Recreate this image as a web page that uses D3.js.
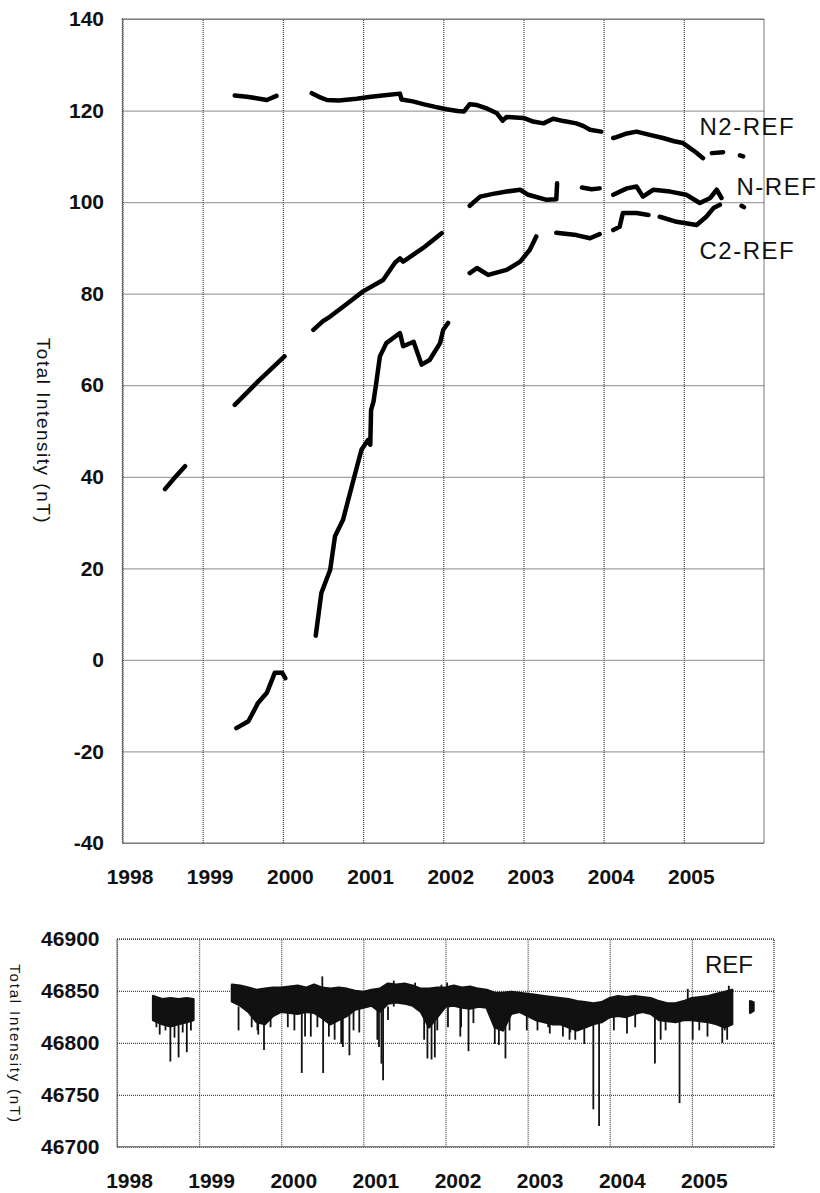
<!DOCTYPE html>
<html>
<head>
<meta charset="utf-8">
<script src="https://cdn.jsdelivr.net/npm/d3@7"></script>
<style>
  body { margin: 0; background: #fff; }
  svg { display: block; font-family: "Liberation Sans", Arial, sans-serif; }
  .grid line { stroke: #444; stroke-width: 1.2; stroke-dasharray: 1,1; }
  .tick text { fill: #111; font-weight: bold; font-size: 21px; }
</style>
</head>
<body>
<script>
// ---- data: top panel (nT differences), null = gap in record ----
var n2Years = [1999.40, 1999.55, 1999.67, 1999.80, 1999.92, null,
  2000.36, 2000.45, 2000.55, 2000.70, 2000.92, 2001.10, 2001.30, 2001.46, 2001.48, 2001.62, 2001.75, 2001.90,
  2002.04, 2002.18, 2002.26, 2002.33, 2002.42, 2002.55, 2002.67, 2002.74, 2002.79, 2002.90, 2003.00, 2003.12,
  2003.25, 2003.37, 2003.50, 2003.66, 2003.75, 2003.83, 2003.97, null,
  2004.12, 2004.16, 2004.29, 2004.41, 2004.55, 2004.74, 2004.88, 2004.99, 2005.15, 2005.24, null,
  2005.35, 2005.49, null, 2005.70, 2005.74];
var n2Values = [123.3, 123.0, 122.7, 122.3, 123.2, null,
  123.8, 123.0, 122.3, 122.2, 122.6, 123.0, 123.4, 123.7, 122.4, 122.0, 121.4, 120.8,
  120.3, 119.9, 119.8, 121.4, 121.2, 120.4, 119.4, 117.8, 118.6, 118.5, 118.4, 117.6,
  117.2, 118.2, 117.7, 117.2, 116.6, 115.8, 115.4, null,
  114.0, 114.2, 115.0, 115.4, 114.8, 114.0, 113.3, 112.9, 110.9, 109.6, null,
  110.7, 110.9, null, 110.2, 110.0];

var nYears = [1998.53, 1998.65, 1998.78, null,
  1999.40, 1999.70, 2000.02, null,
  2000.38, 2000.50, 2000.59, 2000.80, 2001.00, 2001.25, 2001.40, 2001.46, 2001.50, 2001.75, 2001.98, null,
  2002.33, 2002.46, 2002.62, 2002.79, 2002.96, 2003.06, 2003.29, 2003.41, 2003.42, null,
  2003.73, 2003.85, 2003.95, null,
  2004.12, 2004.29, 2004.41, 2004.49, 2004.62, 2004.83, 2005.03, 2005.20, 2005.33, 2005.41, 2005.47, null,
  2005.72, 2005.75];
var nValues = [37.3, 39.8, 42.3, null,
  55.7, 61.0, 66.3, null,
  72.1, 74.0, 75.0, 77.8, 80.5, 83.0, 86.8, 87.7, 87.0, 90.0, 93.2, null,
  99.2, 101.2, 101.8, 102.3, 102.7, 101.6, 100.5, 100.6, 104.1, null,
  103.2, 102.8, 103.0, null,
  101.6, 103.0, 103.4, 101.2, 102.7, 102.3, 101.6, 99.8, 100.9, 102.7, 100.9, null,
  99.2, 98.9];

var c2Years = [1999.42, 1999.57, 1999.69, 1999.80, 1999.90, 1999.99, 2000.03, null,
  2000.41, 2000.48, 2000.59, 2000.65, 2000.75, 2000.88, 2000.98, 2001.06, 2001.09, 2001.10, 2001.13,
  2001.17, 2001.21, 2001.29, 2001.46, 2001.50, 2001.63, 2001.73, 2001.83, 2001.96, 2002.00, 2002.06, null,
  2002.33, 2002.42, 2002.56, 2002.79, 2002.96, 2003.08, 2003.16, null,
  2003.41, 2003.66, 2003.83, 2003.95, null,
  2004.12, 2004.20, 2004.24, 2004.41, 2004.56, null,
  2004.70, 2004.91, 2005.16, 2005.28, 2005.37, 2005.45];
var c2Values = [-14.9, -13.4, -9.4, -7.2, -2.8, -2.8, -4.0, null,
  5.3, 14.6, 19.7, 27.0, 30.6, 39.3, 45.9, 48.0, 47.0, 54.6, 56.4,
  61.2, 66.3, 69.2, 71.4, 68.5, 69.5, 64.5, 65.5, 69.2, 72.1, 73.6, null,
  84.5, 85.6, 84.1, 85.2, 87.0, 89.6, 92.5, null,
  93.3, 92.8, 92.1, 93.0, null,
  93.9, 94.6, 97.6, 97.6, 97.2, null,
  96.8, 95.7, 95.0, 96.8, 98.7, 99.4];

var seriesNames = ["N2-REF", "N-REF", "C2-REF"];

// ---- data: bottom panel (REF total intensity), band of daily values ----
var refYears = [1998.44, 1998.55, 1998.65, 1998.75, 1998.85, 1998.93, null,
  1999.40, 1999.50, 1999.60, 1999.70, 1999.80, 1999.90, 2000.00, 2000.10, 2000.20, 2000.30, 2000.40,
  2000.50, 2000.60, 2000.70, 2000.80, 2000.90, 2001.00, 2001.10, 2001.20, 2001.30, 2001.40, 2001.50,
  2001.60, 2001.70, 2001.80, 2001.90, 2002.00, 2002.10, 2002.20, 2002.30, 2002.40, 2002.50, 2002.60,
  2002.70, 2002.80, 2002.90, 2003.00, 2003.10, 2003.20, 2003.30, 2003.40, 2003.50, 2003.60, 2003.70,
  2003.80, 2003.90, 2004.00, 2004.10, 2004.20, 2004.30, 2004.40, 2004.50, 2004.60, 2004.70, 2004.80,
  2004.90, 2005.00, 2005.10, 2005.20, 2005.30, 2005.40, 2005.49, null,
  2005.71, 2005.75];
var refHigh = [46845, 46842, 46843, 46842, 46843, 46842, null,
  46856, 46855, 46853, 46851, 46852, 46853, 46853, 46854, 46855, 46853, 46856,
  46853, 46852, 46853, 46852, 46850, 46849, 46851, 46852, 46857, 46856, 46857,
  46855, 46852, 46852, 46853, 46853, 46855, 46853, 46854, 46852, 46851, 46848,
  46848, 46849, 46848, 46847, 46846, 46845, 46844, 46843, 46842, 46840, 46839,
  46838, 46839, 46843, 46845, 46844, 46845, 46844, 46843, 46840, 46838, 46838,
  46840, 46843, 46844, 46845, 46847, 46849, 46851, null,
  46840, 46839];
var refLow = [46822, 46818, 46816, 46818, 46820, 46822, null,
  46840, 46836, 46830, 46820, 46818, 46826, 46830, 46829, 46828, 46830, 46829,
  46824, 46818, 46822, 46826, 46832, 46834, 46836, 46830, 46838, 46839, 46838,
  46836, 46830, 46815, 46825, 46835, 46836, 46834, 46833, 46835, 46834, 46815,
  46812, 46828, 46830, 46826, 46822, 46820, 46818, 46818, 46815, 46812, 46815,
  46818, 46820, 46825, 46826, 46825, 46828, 46830, 46828, 46822, 46821, 46820,
  46822, 46822, 46821, 46820, 46818, 46815, 46818, null,
  46829, 46831];

// single-day excursions (down and up)
var spikeYears = [1998.48, 1998.52, 1998.59, 1998.65, 1998.70, 1998.75, 1998.80, 1998.85, 1998.90,
  1999.48, 1999.64, 1999.71, 1999.72, 1999.79, 1999.87, 2000.08, 2000.16, 2000.25, 2000.29, 2000.36,
  2000.44, 2000.51, 2000.58, 2000.65, 2000.73, 2000.75, 2000.83, 2000.88, 2000.95,
  2001.17, 2001.19, 2001.22, 2001.24, 2001.30, 2001.74, 2001.78, 2001.83, 2001.87, 2001.90,
  2002.03, 2002.18, 2002.19, 2002.28, 2002.34, 2002.60, 2002.65, 2002.73, 2002.78, 2002.99,
  2003.12, 2003.25, 2003.27, 2003.43, 2003.51, 2003.52, 2003.58, 2003.69, 2003.80, 2003.87,
  2004.05, 2004.21, 2004.31, 2004.55, 2004.62, 2004.68, 2004.85,
  2005.01, 2005.09, 2005.19, 2005.37, 2005.40, 2005.43,
  2000.50, 2001.37, 2001.63, 2001.95, 2002.02, 2004.95, 2005.45];
var spikeValues = [46815, 46808, 46812, 46782, 46805, 46786, 46810, 46791, 46812,
  46812, 46815, 46812, 46808, 46793, 46815, 46815, 46812, 46771, 46806, 46806,
  46815, 46771, 46806, 46803, 46799, 46796, 46788, 46812, 46810,
  46803, 46796, 46780, 46764, 46822, 46803, 46785, 46784, 46786, 46812,
  46815, 46806, 46815, 46792, 46819, 46799, 46798, 46785, 46812, 46812,
  46812, 46815, 46809, 46806, 46803, 46810, 46803, 46799, 46736, 46720,
  46812, 46809, 46815, 46780, 46803, 46812, 46742,
  46803, 46812, 46806, 46800, 46812, 46803,
  46864, 46860, 46858, 46856, 46858, 46852, 46855];

var yearTicks = [1998, 1999, 2000, 2001, 2002, 2003, 2004, 2005];
var topTicks = [-40, -20, 0, 20, 40, 60, 80, 100, 120, 140];
var bottomTicks = [46700, 46750, 46800, 46850, 46900];

// ---- layout ----
var W = 820, H = 1193;
var svg = d3.select("body").append("svg").attr("width", W).attr("height", H);
svg.append("rect").attr("width", W).attr("height", H).attr("fill", "#fff");

function zip(xs, ys) {
  return xs.map(function(d, i) { return [d, ys[i]]; });
}

function plain(d) { return String(d); }

function panel(m, w, h, yDomain, yTicks, labelDx) {
  var g = svg.append("g").attr("transform", "translate(" + m.left + "," + m.top + ")");
  var x = d3.scaleLinear().domain([1998, 2006]).range([0, w]);
  var y = d3.scaleLinear().domain(yDomain).range([h, 0]);

  var gx = g.append("g").attr("class", "grid")
      .attr("transform", "translate(0," + h + ")")
      .call(d3.axisBottom(x).tickValues(yearTicks).tickSize(-h).tickPadding(26).tickFormat(plain));
  gx.select(".domain").remove();
  gx.selectAll("text").attr("dx", labelDx);

  var gy = g.append("g").attr("class", "grid")
      .call(d3.axisLeft(y).tickValues(yTicks).tickSize(-w).tickPadding(m.pad).tickFormat(plain));
  gy.select(".domain").remove();

  g.append("rect").attr("width", w).attr("height", h)
      .attr("fill", "none").attr("stroke", "#444").attr("stroke-width", 1.4)
      .attr("stroke-dasharray", "1,1");
  return {g: g, x: x, y: y};
}

// top panel
var topP = panel({left: 122.5, top: 19, pad: 18.5}, 641.5, 824, [-40, 140], topTicks, 7);

var line = d3.line()
    .defined(function(d) { return d[1] != null; })
    .x(function(d) { return topP.x(d[0]); })
    .y(function(d) { return topP.y(d[1]); });

[zip(n2Years, n2Values), zip(nYears, nValues), zip(c2Years, c2Values)].forEach(function(s) {
  topP.g.append("path").datum(s)
      .attr("d", line)
      .attr("fill", "none").attr("stroke", "#000")
      .attr("stroke-width", 4.5).attr("stroke-linejoin", "round").attr("stroke-linecap", "round");
});

var lab = topP.g.append("g").attr("font-size", 24).attr("fill", "#111").attr("letter-spacing", 1.5);
lab.append("text").attr("x", 577).attr("y", 116).text(seriesNames[0]);
lab.append("text").attr("x", 614).attr("y", 176).text(seriesNames[1]);
lab.append("text").attr("x", 577).attr("y", 240).text(seriesNames[2]);

svg.append("text")
    .attr("transform", "translate(37,431) rotate(90)")
    .attr("text-anchor", "middle")
    .attr("font-size", 19).attr("letter-spacing", 1.5).attr("fill", "#111")
    .text("Total Intensity (nT)");

// bottom panel
var botP = panel({left: 117, top: 939, pad: 17.5}, 657, 207.7, [46700, 46900], bottomTicks, 12);

var band = d3.area()
    .defined(function(d) { return d.t != null; })
    .x(function(d) { return botP.x(d.t); })
    .y0(function(d) { return botP.y(d.lo); })
    .y1(function(d) { return botP.y(d.hi); });

var refData = refYears.map(function(t, i) { return {t: t, hi: refHigh[i], lo: refLow[i]}; });

botP.g.append("path").datum(refData)
    .attr("d", band)
    .attr("fill", "#111").attr("stroke", "#111").attr("stroke-width", 2.5)
    .attr("stroke-linejoin", "round");

botP.g.selectAll(".spike").data(zip(spikeYears, spikeValues)).enter()
  .append("line").attr("class", "spike")
    .attr("x1", function(d) { return botP.x(d[0]); })
    .attr("x2", function(d) { return botP.x(d[0]); })
    .attr("y1", botP.y(46835))
    .attr("y2", function(d) { return botP.y(d[1]); })
    .attr("stroke", "#111").attr("stroke-width", 1.8);

botP.g.append("text").attr("x", 588).attr("y", 33.5)
    .attr("font-size", 24).attr("fill", "#111").text("REF");

svg.append("text")
    .attr("transform", "translate(10,1044) rotate(90)")
    .attr("text-anchor", "middle")
    .attr("font-size", 15).attr("letter-spacing", 1.8).attr("fill", "#111")
    .text("Total Intensity (nT)");
</script>
</body>
</html>
